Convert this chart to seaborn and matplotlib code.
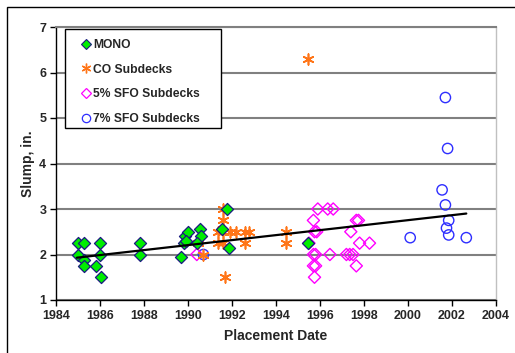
import numpy as np
import pandas as pd
import matplotlib
matplotlib.use("Agg")
import matplotlib.pyplot as plt
import matplotlib.patches as mpatches
from matplotlib.lines import Line2D
import seaborn as sns

# ---- data ----
mono_x = [1985.0, 1985.25, 1986.0, 1987.8, 1985.0, 1986.0, 1987.8, 1985.25, 1985.25, 1985.8, 1986.05,
          1989.7, 1989.8, 1989.85, 1990.0, 1989.9, 1990.55, 1990.6, 1990.4, 1991.55, 1991.75, 1991.85, 1995.45]
mono_y = [2.25, 2.25, 2.25, 2.25, 2.0, 2.0, 2.0, 1.875, 1.75, 1.75, 1.5,
          1.95, 2.25, 2.4, 2.5, 2.3, 2.55, 2.4, 2.25, 2.55, 3.0, 2.15, 2.25]

co_x = [1990.45, 1990.7, 1991.38, 1991.6, 1991.6, 1991.6, 1991.38, 1991.6, 1991.9, 1992.2, 1992.6,
        1992.75, 1992.6, 1991.7, 1994.45, 1994.45, 1995.45]
co_y = [2.25, 2.0, 2.25, 3.0, 2.75, 2.5, 2.5, 2.25, 2.5, 2.5, 2.5,
        2.5, 2.25, 1.5, 2.5, 2.25, 6.3]

s5_x = [1990.4, 1995.5, 1995.9, 1996.35, 1996.6, 1995.7, 1997.65, 1997.75, 1995.75, 1995.85, 1997.4,
        1997.8, 1998.25, 1995.7, 1995.8, 1996.45, 1997.2, 1997.35, 1997.5, 1995.7, 1995.8, 1997.65, 1995.75]
s5_y = [2.0, 2.25, 3.0, 3.0, 3.0, 2.75, 2.75, 2.75, 2.5, 2.5, 2.5,
        2.25, 2.25, 2.0, 2.0, 2.0, 2.0, 2.0, 2.0, 1.75, 1.75, 1.75, 1.5]

s7_x = [1990.7, 2000.1, 2001.55, 2001.7, 2001.7, 2001.8, 2001.85, 2001.75, 2001.85, 2002.65]
s7_y = [2.0, 2.37, 3.42, 5.45, 3.09, 4.33, 2.75, 2.58, 2.43, 2.37]

trend_x = [1984.95, 2002.65]
trend_y = [1.93, 2.90]

labels = ["MONO", "CO Subdecks", "5% SFO Subdecks", "7% SFO Subdecks"]
x_ticks = list(range(1984, 2005, 2))
y_ticks = list(range(1, 8))

# ---- style ----
sns.set_theme(style="white")
plt.rcParams["font.family"] = ["Liberation Sans", "DejaVu Sans"]
plt.rcParams["font.weight"] = "bold"

fig = plt.figure(figsize=(5.15, 3.53), dpi=100)
ax = fig.add_axes([56/515, 1-300/353, 440/515, 273/353])

# outer chart border
fig.patches.append(mpatches.Rectangle((7/515, -0.05), 1.2, 1-7/353+0.05, transform=fig.transFigure,
                                      fill=False, edgecolor="black", linewidth=1.0, zorder=0))

ax.set_xlim(1984, 2004)
ax.set_ylim(1, 7)
ax.set_xticks(x_ticks)
ax.set_yticks(y_ticks)
ax.yaxis.grid(True, color="#808080", linewidth=1.5)
ax.set_axisbelow(True)

co_color = "#FF7518"
mark_kw = dict(ax=ax, legend=False, zorder=3)
sns.scatterplot(x=s7_x, y=s7_y, marker="o", s=55, facecolor="none", edgecolor="#2E2EFF", linewidth=1.0, **mark_kw)
sns.scatterplot(x=s5_x, y=s5_y, marker="D", s=38, facecolor="none", edgecolor="#FF00FF", linewidth=1.0, **mark_kw)
sns.scatterplot(x=co_x, y=co_y, marker=(6, 2, 0), s=60, color=co_color, edgecolor=co_color, linewidth=1.2, **mark_kw)
sns.scatterplot(x=mono_x, y=mono_y, marker="D", s=38, facecolor="#00EE00", edgecolor="#1A1A80", linewidth=0.9, **mark_kw)

sns.lineplot(x=trend_x, y=trend_y, color="black", linewidth=1.6, ax=ax, zorder=4)

for side in ["left", "bottom"]:
    ax.spines[side].set_color("black")
    ax.spines[side].set_linewidth(1.0)
ax.spines["top"].set_color("#808080")
ax.spines["top"].set_linewidth(1.5)
ax.spines["right"].set_color("#C0C0C0")
ax.spines["right"].set_linewidth(1.0)

ax.tick_params(axis="both", direction="out", length=4, width=1, color="black",
               labelsize=9, pad=3, bottom=True, left=True)
for t in ax.get_xticklabels() + ax.get_yticklabels():
    t.set_fontweight("bold")

ax.set_xlabel("Placement Date", fontsize=10, fontweight="bold", labelpad=5)
ax.set_ylabel("Slump, in.", fontsize=10, fontweight="bold", labelpad=3)

handles = [
    Line2D([], [], linestyle="none", marker="D", markersize=5, markerfacecolor="#00EE00", markeredgecolor="#1A1A80", markeredgewidth=0.8),
    Line2D([], [], linestyle="none", marker=(6, 2, 0), markersize=7, color=co_color, markeredgewidth=1.0),
    Line2D([], [], linestyle="none", marker="D", markersize=5, markerfacecolor="none", markeredgecolor="#FF00FF", markeredgewidth=0.9),
    Line2D([], [], linestyle="none", marker="o", markersize=6, markerfacecolor="none", markeredgecolor="#2E2EFF", markeredgewidth=0.9),
]
# legend frame drawn as a box, entries placed inside it
ax.add_patch(mpatches.Rectangle((9/440, 172/273), 156/440, 99/273, transform=ax.transAxes,
                                fill=True, facecolor="white", edgecolor="black", linewidth=1.0,
                                zorder=5, clip_on=False))
leg = ax.legend(handles, labels, loc="upper left", bbox_to_anchor=(25/440, 261/273),
                frameon=False, prop={"size": 8.7, "weight": "bold"}, labelspacing=1.05,
                handlelength=0.9, handletextpad=0.1, borderpad=0, borderaxespad=0)
leg.set_zorder(6)

fig.savefig("out.png", dpi=100)
